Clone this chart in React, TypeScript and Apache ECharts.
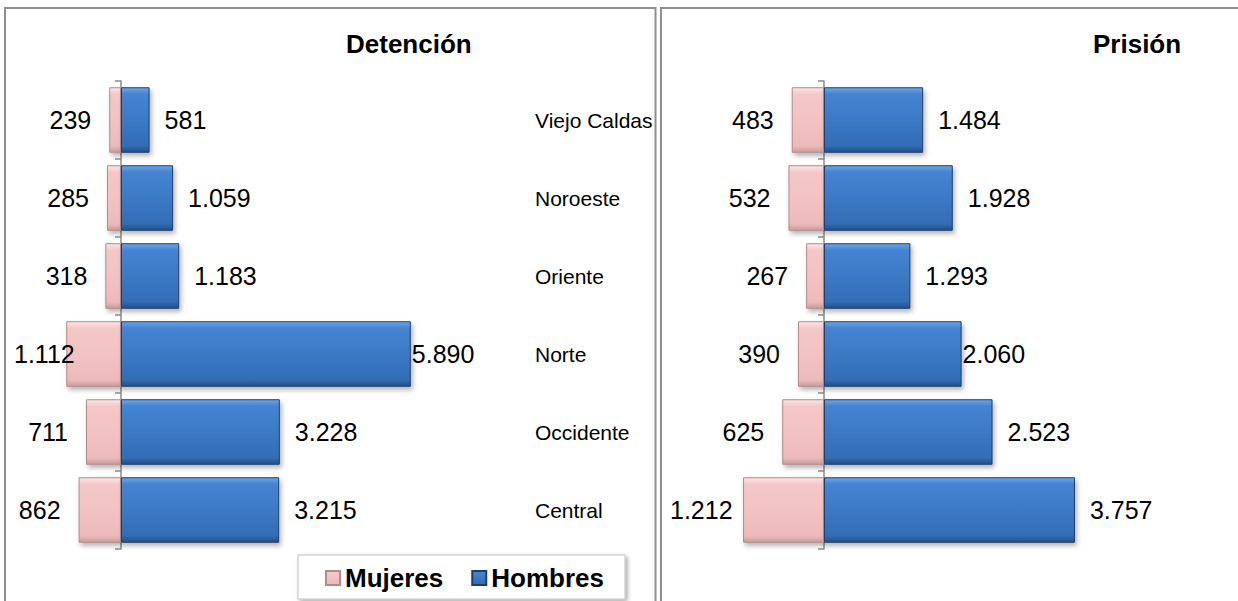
import React, { useEffect, useRef } from "react";
import * as echarts from "echarts";

const categories = ["Viejo Caldas", "Noroeste", "Oriente", "Norte", "Occidente", "Central"];
const detencionMujeres = [239, 285, 318, 1112, 711, 862];
const detencionHombres = [581, 1059, 1183, 5890, 3228, 3215];
const prisionMujeres = [483, 532, 267, 390, 625, 1212];
const prisionHombres = [1484, 1928, 1293, 2060, 2523, 3757];
const titles = ["Detención", "Prisión"];
const seriesNames = ["Mujeres", "Hombres"];

const FONT = "Arial, 'Liberation Sans', sans-serif";

const fmt = (v: number) => String(Math.abs(v)).replace(/\B(?=(\d{3})+(?!\d))/g, ".");

const blueFill = new echarts.graphic.LinearGradient(0, 0, 0, 1, [
  { offset: 0, color: "#6ea6e6" },
  { offset: 0.1, color: "#4584d2" },
  { offset: 0.5, color: "#3c79c5" },
  { offset: 0.9, color: "#336db5" },
  { offset: 1, color: "#234f88" },
]);
const pinkFill = new echarts.graphic.LinearGradient(0, 0, 0, 1, [
  { offset: 0, color: "#fde6e6" },
  { offset: 0.1, color: "#f4c8c8" },
  { offset: 0.5, color: "#f2c3c3" },
  { offset: 0.9, color: "#edbaba" },
  { offset: 1, color: "#c99c9c" },
]);

const pinkStyle = {
  color: pinkFill,
  borderColor: "#b28c8c",
  borderWidth: 1,
  shadowBlur: 5,
  shadowOffsetX: 2,
  shadowOffsetY: 3,
  shadowColor: "rgba(0,0,0,0.3)",
};
const blueStyle = {
  color: blueFill,
  borderColor: "#1f3f6b",
  borderWidth: 1,
  shadowBlur: 5,
  shadowOffsetX: 2,
  shadowOffsetY: 3,
  shadowColor: "rgba(0,0,0,0.3)",
};

export default function App() {
  const ref = useRef<HTMLDivElement>(null);

  useEffect(() => {
    if (!ref.current) return;
    const chart = echarts.init(ref.current, undefined, { renderer: "svg" });

    const grids = [
      { left: 22.6, width: 393.6, top: 81, height: 468, min: -2000, max: 6000, clampX: 14 },
      { left: 690.4, width: 400.8, top: 81, height: 468, min: -2000, max: 4000, clampX: 670 },
    ];
    const sets = [
      { m: detencionMujeres, h: detencionHombres },
      { m: prisionMujeres, h: prisionHombres },
    ];

    const labelBase = { show: true, color: "#000", fontSize: 25, fontFamily: FONT };

    const series: any[] = [];
    sets.forEach((s, gi) => {
      const clampX = grids[gi].clampX;
      series.push({
        name: seriesNames[0],
        type: "bar",
        xAxisIndex: gi,
        yAxisIndex: gi === 0 ? 0 : 2,
        barCategoryGap: "16%",
        barGap: "-100%",
        itemStyle: pinkStyle,
        label: { ...labelBase, position: "left", distance: 18, formatter: (p: any) => fmt(p.value) },
        labelLayout: (p: any) => {
          if (p.labelRect && p.labelRect.x < clampX) return { dx: clampX - p.labelRect.x };
          return {};
        },
        data: s.m.map((v) => -v),
      });
      series.push({
        name: seriesNames[1],
        type: "bar",
        xAxisIndex: gi,
        yAxisIndex: gi === 0 ? 0 : 2,
        barCategoryGap: "16%",
        barGap: "-100%",
        itemStyle: blueStyle,
        label: { ...labelBase, position: "right", distance: 15, formatter: (p: any) => fmt(p.value) },
        data: s.h.map((v, i) =>
          categories[i] === "Norte" ? { value: v, label: { distance: 1 } } : v
        ),
      });
    });

    const axisStyle = { lineStyle: { color: "#8c8c8c", width: 1.5 } };

    chart.setOption({
      animation: false,
      textStyle: { fontFamily: FONT },
      title: [
        { text: titles[0], left: 346, top: 31, padding: 0, textStyle: { fontSize: 26, fontWeight: "bold", color: "#000", fontFamily: FONT } },
        { text: titles[1], left: 1093, top: 31, padding: 0, textStyle: { fontSize: 26, fontWeight: "bold", color: "#000", fontFamily: FONT } },
      ],
      legend: {
        data: seriesNames,
        left: 298,
        top: 555,
        padding: [10, 21, 8, 27],
        itemWidth: 14,
        itemHeight: 14,
        itemGap: 28,
        icon: "rect",
        backgroundColor: "#fff",
        borderColor: "#c4c4c4",
        borderWidth: 1,
        shadowColor: "rgba(0,0,0,0.35)",
        shadowBlur: 4,
        shadowOffsetX: 2,
        shadowOffsetY: 2,
        textStyle: { fontSize: 26, fontWeight: "bold", color: "#000", fontFamily: FONT },
      },
      graphic: [
        { type: "rect", z: -10, shape: { x: 5, y: 8, width: 650.5, height: 700 }, style: { fill: "#fff", stroke: "#8f8f8f", lineWidth: 2 } },
        { type: "rect", z: -10, shape: { x: 661, y: 8, width: 700, height: 700 }, style: { fill: "#fff", stroke: "#8f8f8f", lineWidth: 2 } },
      ],
      grid: grids.map((g) => ({ left: g.left, width: g.width, top: g.top, height: g.height })),
      xAxis: grids.map((g, i) => ({
        type: "value",
        gridIndex: i,
        min: g.min,
        max: g.max,
        show: false,
      })),
      yAxis: [
        {
          type: "category",
          gridIndex: 0,
          data: categories,
          inverse: true,
          axisLine: { show: true, onZero: true, ...axisStyle },
          axisTick: { show: true, length: 6, interval: 0, ...axisStyle },
          axisLabel: { show: false },
        },
        {
          type: "category",
          gridIndex: 0,
          data: categories,
          inverse: true,
          position: "right",
          offset: 110.8,
          axisLine: { show: false, onZero: false },
          axisTick: { show: false },
          axisLabel: { show: true, margin: 8, fontSize: 21, color: "#000", fontFamily: FONT },
        },
        {
          type: "category",
          gridIndex: 1,
          data: categories,
          inverse: true,
          axisLine: { show: true, onZero: true, ...axisStyle },
          axisTick: { show: true, length: 6, interval: 0, ...axisStyle },
          axisLabel: { show: false },
        },
      ],
      series,
    });

    return () => chart.dispose();
  }, []);

  return (
    <div
      ref={ref}
      style={{ position: "fixed", left: 0, top: 0, width: 1238, height: 601, background: "#fff" }}
    />
  );
}
